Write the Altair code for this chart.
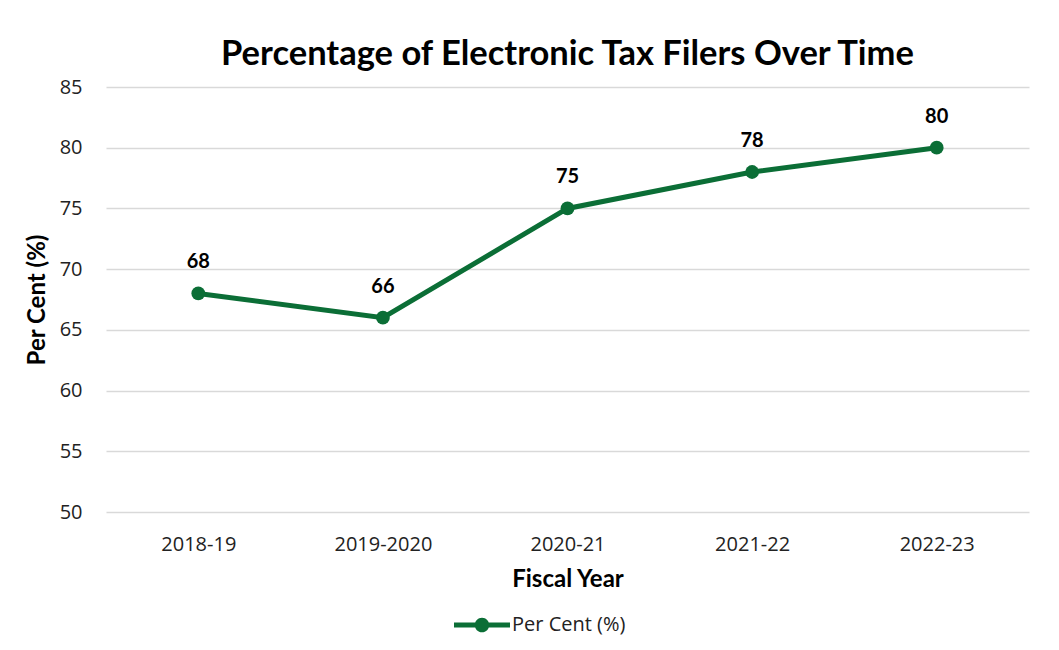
import altair as alt
import pandas as pd

years = ["2018-19", "2019-2020", "2020-21", "2021-22", "2022-23"]
values = [68, 66, 75, 78, 80]
series = ["Per Cent (%)"] * len(years)

df = pd.DataFrame({"year": years, "value": values, "series": series})

GREEN = "#0b6e36"
FONT = "Lato"

legend_path = ("M-1,-0.09 L1,-0.09 L1,0.09 L-1,0.09 Z "
               "M0.26,0 A0.26,0.26 0 1,1 -0.26,0 A0.26,0.26 0 1,1 0.26,0 Z")

base = alt.Chart(df).encode(
    x=alt.X("year:N", sort=years, title="Fiscal Year",
            scale=alt.Scale(paddingInner=0, paddingOuter=0.5),
            axis=alt.Axis(labelAngle=0, labelFontSize=20, labelFont="Open Sans",
                          labelColor="#222", ticks=False, domain=False, grid=False,
                          labelPadding=22, titleFontSize=24, titleFont=FONT,
                          titleFontWeight="bold", titleColor="#000", titlePadding=13)),
    y=alt.Y("value:Q", title="Per Cent (%)",
            scale=alt.Scale(domain=[50, 85], nice=False, zero=False),
            axis=alt.Axis(values=[50, 55, 60, 65, 70, 75, 80, 85], labelFontSize=20,
                          labelFont="Open Sans", labelColor="#222", ticks=False,
                          domain=False, gridColor="#d9d9d9", gridWidth=1.5,
                          labelPadding=24, titleFontSize=24, titleFont=FONT,
                          titleFontWeight="bold", titleColor="#000", titlePadding=10)),
)

color = alt.Color("series:N", scale=alt.Scale(range=[GREEN]), title=None,
                  legend=alt.Legend(orient="none", legendX=348, legendY=510,
                                    symbolType=legend_path, symbolSize=3136,
                                    symbolStrokeWidth=0, symbolFillColor=GREEN,
                                    labelFontSize=20, labelFont="Open Sans",
                                    labelColor="#222", labelOffset=2))

line = base.mark_line(strokeWidth=5, color=GREEN).encode(color=color)
points = base.mark_point(filled=True, size=190, opacity=1, color=GREEN)
labels = base.mark_text(dy=-31, fontSize=20, fontWeight="bold", font=FONT,
                        color="#000").encode(text="value:Q")

chart = alt.layer(line, points, labels).properties(
    width=923, height=425,
    background="white",
    title=alt.TitleParams("Percentage of Electronic Tax Filers Over Time",
                          fontSize=34.5, font=FONT, fontWeight="bold", color="#000",
                          anchor="middle", offset=5),
    autosize=alt.AutoSizeParams(type="none"),
    padding={"left": 106, "top": 87, "right": 30, "bottom": 138},
).configure_view(strokeWidth=0)

chart.save("out.html", embed_options={"renderer": "svg", "actions": False})
